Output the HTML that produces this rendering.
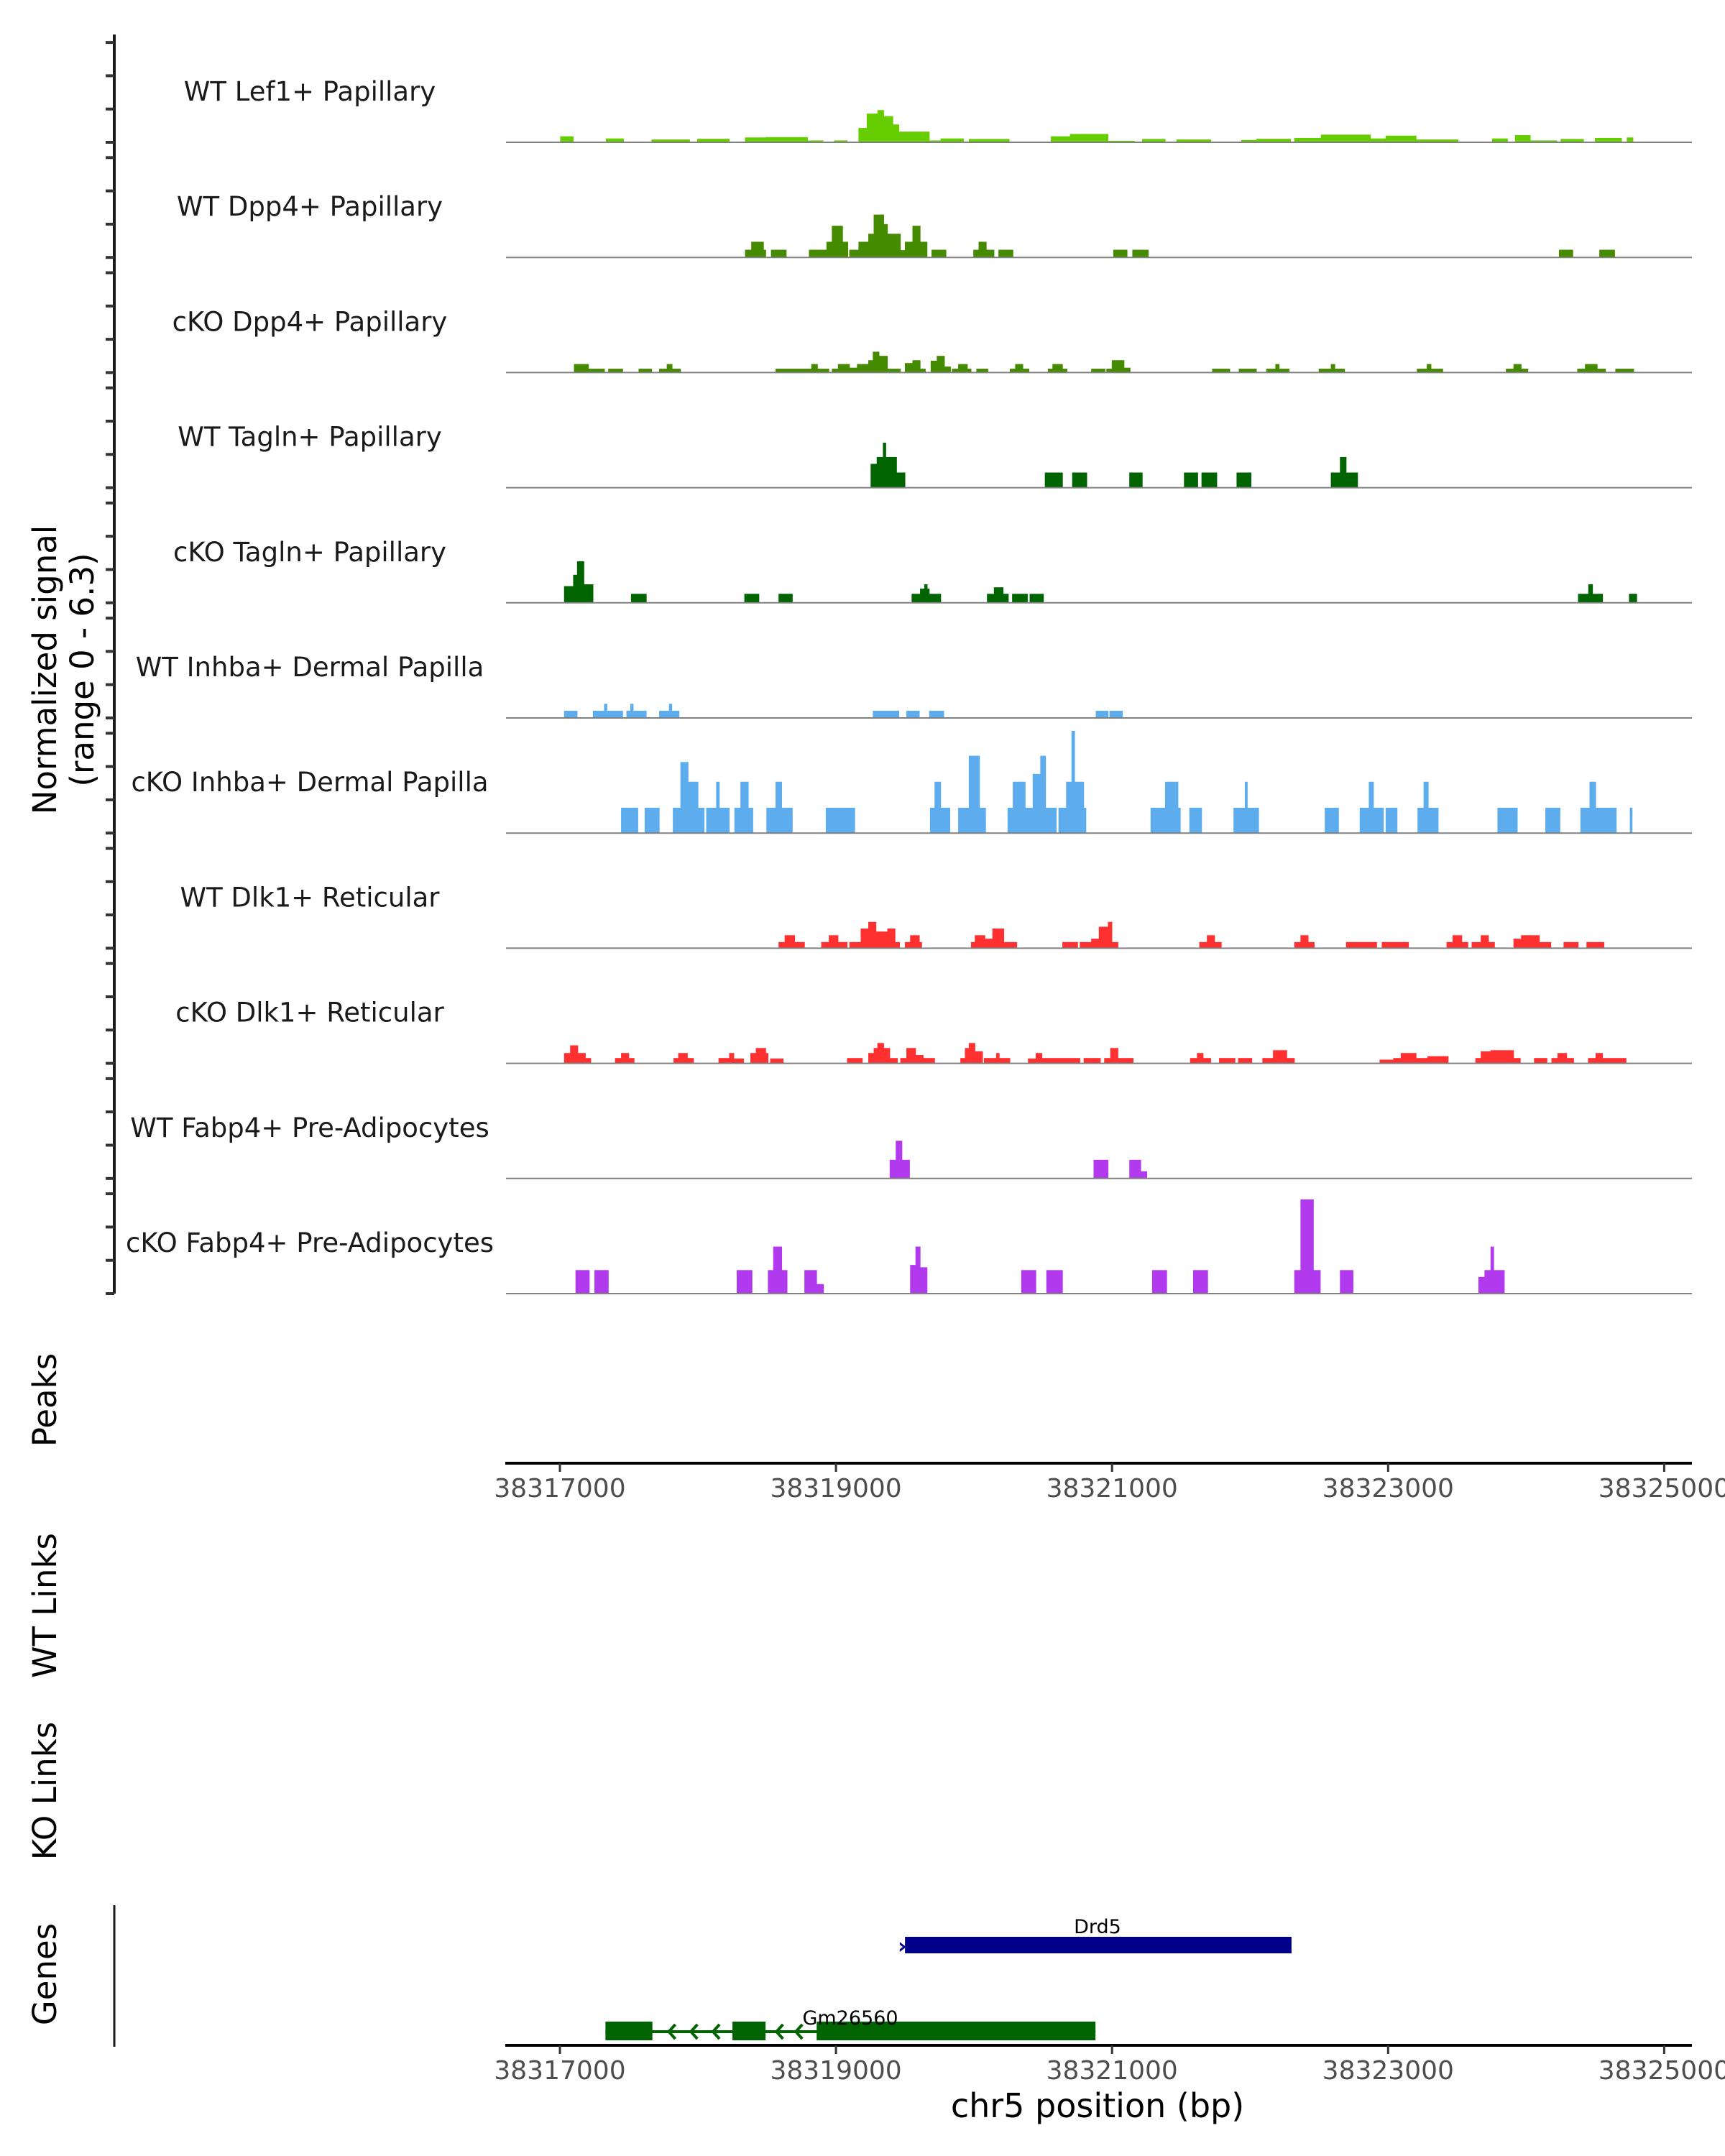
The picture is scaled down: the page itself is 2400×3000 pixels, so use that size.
<!DOCTYPE html>
<html><head><meta charset="utf-8"><title>Coverage plot chr5 Drd5 region</title>
<style>
html,body{margin:0;padding:0;background:#fff;}
svg{display:block;font-family:"DejaVu Sans","Liberation Sans",sans-serif;}
</style></head>
<body>
<svg id="chart" width="2400" height="3000" viewBox="0 0 2400 3000" xmlns="http://www.w3.org/2000/svg">
  <rect x="0" y="0" width="2400" height="3000" fill="#fff"/>
  <g id="tracks"></g>
  <g id="yaxis">
    <line x1="159" y1="48" x2="159" y2="1800" stroke="#1a1a1a" stroke-width="4"/>
  </g>
  <text transform="translate(78,932) rotate(-90)" text-anchor="middle" font-size="45" fill="#000">Normalized signal</text>
  <text transform="translate(130,932) rotate(-90)" text-anchor="middle" font-size="45" fill="#000">(range 0 - 6.3)</text>
  <text transform="translate(78,1948) rotate(-90)" text-anchor="middle" font-size="45" fill="#000">Peaks</text>
  <text transform="translate(78,2234) rotate(-90)" text-anchor="middle" font-size="45" fill="#000">WT Links</text>
  <text transform="translate(78,2492) rotate(-90)" text-anchor="middle" font-size="45" fill="#000">KO Links</text>
  <text transform="translate(78,2747) rotate(-90)" text-anchor="middle" font-size="45" fill="#000">Genes</text>
  <line x1="159" y1="2651" x2="159" y2="2848" stroke="#1a1a1a" stroke-width="3"/>
  <g id="xaxis1"></g>
  <g id="xaxis2"></g>
  <g id="genes"></g>
  <text x="1527" y="2946" text-anchor="middle" font-size="46" fill="#000">chr5 position (bp)</text>
</svg>
<script>
const regionStart = 38317000;
const axisTicks = [38317000, 38319000, 38321000, 38323000, 38325000];
const trackNames = ["WT Lef1+ Papillary","WT Dpp4+ Papillary","cKO Dpp4+ Papillary","WT Tagln+ Papillary","cKO Tagln+ Papillary","WT Inhba+ Dermal Papilla","cKO Inhba+ Dermal Papilla","WT Dlk1+ Reticular","cKO Dlk1+ Reticular","WT Fabp4+ Pre-Adipocytes","cKO Fabp4+ Pre-Adipocytes"];
const trackColors = ["#66CD00","#458B00","#458B00","#006400","#006400","#5CACEE","#5CACEE","#FF3030","#FF3030","#B23AEE","#B23AEE"];
// blocks: [startOffsetBp, endOffsetBp, signal]
const lef1WT = [[2,96,0.36],[333,460,0.23],[664,939,0.17],[994,1226,0.21],[1341,1490,0.29],[1490,1793,0.31],[1793,1904,0.11],[1986,2080,0.11],[2163,2223,0.86],[2223,2300,1.72],[2300,2345,1.93],[2345,2411,1.57],[2411,2455,1.07],[2455,2675,0.64],[2675,2758,0.11],[2758,2923,0.23],[2962,3254,0.2],[3557,3695,0.36],[3695,3970,0.5],[3970,4163,0.09],[4218,4384,0.2],[4466,4714,0.17],[4935,5045,0.14],[5045,5293,0.21],[5320,5513,0.26],[5513,5871,0.46],[5871,5982,0.23],[5982,6202,0.4],[6202,6506,0.17],[6753,6864,0.23],[6919,7029,0.43],[7029,7222,0.11],[7250,7415,0.2],[7498,7690,0.26],[7729,7773,0.29]];
const dpp4WT = [[1341,1490,0.46],[1386,1474,0.94],[1529,1639,0.46],[1804,1931,0.46],[1931,1970,0.94],[1970,2047,1.9],[2047,2085,0.94],[2096,2163,0.46],[2163,2234,0.94],[2234,2273,1.42],[2273,2345,2.57],[2345,2372,2.0],[2372,2466,1.42],[2466,2499,0.43],[2499,2554,0.94],[2554,2609,1.9],[2609,2659,0.94],[2692,2796,0.46],[2995,3033,0.46],[3033,3088,0.94],[3088,3144,0.46],[3177,3281,0.46],[4009,4108,0.46],[4147,4262,0.46],[7238,7337,0.46],[7530,7640,0.46]];
const dpp4KO = [[102,206,0.51],[206,322,0.23],[350,454,0.23],[570,664,0.23],[719,774,0.23],[774,812,0.51],[812,873,0.23],[1562,1821,0.23],[1821,1865,0.51],[1865,1948,0.23],[1970,2014,0.23],[2014,2097,0.51],[2097,2152,0.29],[2152,2234,0.51],[2234,2267,0.74],[2267,2311,1.25],[2311,2372,1.0],[2372,2466,0.23],[2499,2554,0.57],[2554,2609,0.74],[2609,2647,0.23],[2686,2730,0.71],[2730,2785,1.0],[2785,2829,0.36],[2840,2885,0.23],[2885,2951,0.51],[2951,2978,0.23],[3017,3100,0.23],[3259,3298,0.23],[3298,3353,0.51],[3353,3397,0.23],[3535,3568,0.23],[3568,3640,0.51],[3640,3673,0.23],[3849,3948,0.23],[3959,3998,0.23],[3998,4086,0.74],[4086,4130,0.29],[4725,4852,0.23],[4918,5045,0.23],[5117,5183,0.23],[5183,5210,0.51],[5210,5282,0.23],[5497,5585,0.23],[5585,5613,0.51],[5613,5684,0.23],[6208,6395,0.23],[6280,6310,0.51],[6853,6908,0.23],[6908,6963,0.51],[6963,7012,0.23],[7370,7426,0.23],[7426,7514,0.51],[7514,7574,0.23],[7646,7778,0.23]];
const taglnWT = [[2251,2295,1.43],[2295,2438,1.84],[2340,2360,2.7],[2438,2499,0.91],[3513,3640,0.91],[3711,3816,0.91],[4125,4218,0.91],[4521,4620,0.91],[4648,4758,0.91],[4902,5006,0.91],[5585,5651,0.91],[5651,5695,1.84],[5695,5778,0.91]];
const taglnKO = [[30,96,1.0],[96,124,1.68],[124,173,2.49],[173,239,1.11],[515,625,0.54],[1336,1441,0.54],[1584,1683,0.54],[2548,2609,0.54],[2609,2675,0.85],[2640,2660,1.11],[2675,2758,0.54],[3094,3144,0.54],[3144,3210,0.93],[3210,3248,0.54],[3276,3386,0.54],[3403,3502,0.54],[7376,7553,0.54],[7450,7480,1.11],[7745,7800,0.54]];
const inhbaWT = [[30,124,0.43],[239,454,0.43],[320,340,0.85],[482,625,0.43],[510,530,0.85],[719,862,0.43],[790,810,0.85],[2267,2455,0.43],[2510,2603,0.43],[2675,2780,0.43],[3882,3970,0.43],[3981,4075,0.43]];
const inhbaKO = [[443,564,1.52],[614,719,1.52],[818,873,1.52],[873,928,4.26],[928,1000,3.08],[1000,1044,1.52],[1060,1132,1.52],[1132,1154,3.08],[1154,1226,1.52],[1264,1308,1.52],[1308,1364,3.08],[1364,1397,1.52],[1496,1562,1.52],[1562,1606,3.08],[1606,1683,1.52],[1926,2135,1.52],[2681,2714,1.52],[2714,2758,3.08],[2758,2824,1.52],[2885,2962,1.52],[2962,3039,4.64],[3039,3083,1.52],[3243,3281,1.52],[3281,3370,3.08],[3370,3425,1.52],[3425,3480,3.55],[3480,3518,4.64],[3518,3595,1.52],[3612,3667,1.52],[3667,3706,3.08],[3706,3728,6.13],[3728,3794,3.08],[3794,3810,1.52],[4279,4384,1.52],[4384,4477,3.08],[4477,4494,1.52],[4560,4648,1.52],[4880,4962,1.52],[4962,4979,3.08],[4979,5061,1.52],[5541,5640,1.52],[5794,5860,1.52],[5860,5893,3.08],[5893,5965,1.52],[5982,6064,1.52],[6213,6257,1.52],[6257,6290,3.08],[6290,6362,1.52],[6792,6935,1.52],[7139,7244,1.52],[7393,7459,1.52],[7459,7503,3.08],[7503,7652,1.52],[7751,7767,1.52]];
const dlk1WT = [[1584,1628,0.37],[1628,1700,0.78],[1700,1771,0.37],[1893,1948,0.37],[1948,2014,0.78],[2014,2080,0.37],[2097,2179,0.37],[2179,2234,1.18],[2234,2289,1.58],[2289,2372,1.0],[2372,2427,1.18],[2427,2460,0.37],[2499,2537,0.37],[2537,2603,0.78],[2603,2620,0.37],[2978,3006,0.37],[3006,3078,0.78],[3078,3133,0.57],[3133,3215,1.18],[3215,3309,0.37],[3640,3750,0.37],[3766,3849,0.37],[3849,3904,0.57],[3904,3970,1.29],[3970,3998,1.58],[3998,4042,0.37],[4632,4687,0.37],[4687,4742,0.78],[4742,4791,0.37],[5320,5365,0.37],[5365,5420,0.78],[5420,5464,0.37],[5695,5916,0.37],[5954,6147,0.37],[6423,6467,0.37],[6467,6533,0.78],[6533,6577,0.37],[6605,6671,0.37],[6671,6726,0.78],[6726,6770,0.37],[6908,6963,0.57],[6963,7095,0.78],[7095,7178,0.37],[7271,7376,0.37],[7437,7563,0.37]];
const dlk1KO = [[30,74,0.62],[74,129,1.08],[129,184,0.62],[184,223,0.32],[399,443,0.32],[443,498,0.62],[498,537,0.32],[823,857,0.32],[857,923,0.62],[923,967,0.32],[1149,1226,0.32],[1226,1259,0.62],[1259,1330,0.29],[1380,1419,0.62],[1419,1490,0.92],[1490,1507,0.62],[1523,1617,0.29],[2080,2190,0.32],[2234,2273,0.62],[2273,2300,0.92],[2300,2345,1.22],[2345,2389,0.92],[2389,2444,0.32],[2466,2510,0.32],[2510,2576,0.92],[2576,2631,0.5],[2631,2714,0.32],[2901,2934,0.32],[2934,2962,0.92],[2962,3006,1.22],[3006,3061,0.72],[3072,3160,0.32],[3160,3182,0.62],[3182,3259,0.32],[3391,3447,0.29],[3447,3491,0.62],[3491,3766,0.32],[3794,3915,0.32],[3943,3987,0.32],[3987,4042,0.92],[4042,4152,0.32],[4565,4615,0.32],[4615,4659,0.62],[4659,4714,0.32],[4775,4890,0.32],[4913,5012,0.32],[5089,5166,0.32],[5166,5265,0.79],[5265,5320,0.32],[5938,6037,0.22],[6037,6092,0.32],[6092,6202,0.62],[6202,6285,0.32],[6285,6434,0.43],[6632,6671,0.32],[6671,6742,0.72],[6742,6908,0.79],[6908,6957,0.32],[7057,7150,0.32],[7183,7227,0.32],[7227,7293,0.62],[7293,7343,0.32],[7448,7503,0.32],[7503,7553,0.62],[7553,7723,0.32]];
const fabp4WT = [[2389,2433,1.12],[2433,2477,2.26],[2477,2532,1.12],[3866,3970,1.12],[4125,4207,1.12],[4207,4251,0.43]];
const fabp4KO = [[113,212,1.41],[250,350,1.41],[1281,1391,1.41],[1507,1545,1.41],[1545,1606,2.82],[1606,1645,1.41],[1771,1859,1.41],[1859,1909,0.57],[2537,2576,1.72],[2576,2609,2.82],[2609,2659,1.58],[3342,3447,1.41],[3524,3640,1.41],[4290,4395,1.41],[4587,4692,1.41],[5320,5365,1.41],[5365,5458,5.65],[5458,5508,1.41],[5651,5745,1.41],[6654,6698,1.0],[6698,6742,1.41],[6742,6764,2.82],[6764,6841,1.41]];
const trackData = [lef1WT, dpp4WT, dpp4KO, taglnWT, taglnKO, inhbaWT, inhbaKO, dlk1WT, dlk1KO, fabp4WT, fabp4KO];
const yTicks = [0, 2, 4, 6];
const drd5Gene = [38319500, 38322300];
const gmExons = [[38317330, 38317670], [38318250, 38318490], [38318860, 38320880]];
const gmSpan = [38317330, 38320880];
const gmArrows = [38317810, 38317970, 38318130, 38318590, 38318730];

const NS = "http://www.w3.org/2000/svg";
function xs(bp){ return 779 + (bp - 38317000) * 0.19205; }
function ys(v, base){ return base - v * 23.2; }
function baseOf(i){ return 198 + i * 160.2; }
function mk(tag, attrs, parent){ const e = document.createElementNS(NS, tag); for (const k in attrs) e.setAttribute(k, attrs[k]); parent.appendChild(e); return e; }

const gT = document.getElementById("tracks");
const gY = document.getElementById("yaxis");
trackData.forEach((blocks, i) => {
  const base = baseOf(i);
  const g = mk("g", {}, gT);
  
  
  const lbl = mk("text", {x: 431, y: base - 58, "text-anchor": "middle", "font-size": 37, fill: "#1a1a1a"}, g);
  lbl.textContent = trackNames[i];
  
  
  blocks.forEach(b => {
    const x0 = xs(regionStart + b[0]), x1 = xs(regionStart + b[1]);
    const yt = ys(b[2], base);
    const p = mk("rect", {x: x0, y: yt, width: Math.max(1, x1 - x0 + 0.6), height: base - yt, fill: trackColors[i]}, g);
    
    
  });
  const bl = mk("line", {x1: 704, y1: base, x2: 2354, y2: base, stroke: "#808080", "stroke-width": 2}, g);
  
  
  yTicks.forEach(t => {
    const ty = base - t * 23.15;
    const tk = mk("line", {x1: 147, y1: ty, x2: 159, y2: ty, stroke: "#333", "stroke-width": 4}, gY);
    
    
  });
});

function drawAxis(gid, y){
  const g = document.getElementById(gid);
  const ln = mk("line", {x1: 703, y1: y, x2: 2354, y2: y, stroke: "#000", "stroke-width": 4}, g);
  
  
  axisTicks.forEach(t => {
    const x = xs(t);
    const tk = mk("line", {x1: x, y1: y, x2: x, y2: y + 12, stroke: "#333", "stroke-width": 3}, g);
    
    
    const tl = mk("text", {x: x, y: y + 47, "text-anchor": "middle", "font-size": 36, fill: "#4d4d4d"}, g);
    tl.textContent = String(t);
    
    
  });
}
drawAxis("xaxis1", 2036);
drawAxis("xaxis2", 2846);

const gG = document.getElementById("genes");
const drd = mk("rect", {x: xs(drd5Gene[0]), y: 2695, width: xs(drd5Gene[1]) - xs(drd5Gene[0]), height: 23, fill: "#00008B"}, gG);


const drdArrow = mk("text", {x: xs(drd5Gene[0]) - 4, y: 2718, "text-anchor": "middle", "font-size": 30, "font-weight": "bold", fill: "#00008B"}, gG);
drdArrow.textContent = "›";


const drdL = mk("text", {x: 1527, y: 2690, "text-anchor": "middle", "font-size": 27, fill: "#000"}, gG);
drdL.textContent = "Drd5";


const gmLine = mk("line", {x1: xs(gmSpan[0]), y1: 2827, x2: xs(gmSpan[1]), y2: 2827, stroke: "#006400", "stroke-width": 4}, gG);


gmExons.forEach(e => {
  const r = mk("rect", {x: xs(e[0]), y: 2813, width: xs(e[1]) - xs(e[0]), height: 26, fill: "#006400"}, gG);
  
  
});
gmArrows.forEach(bp => {
  const x = xs(bp);
  const a = mk("polyline", {points: `${x+5},${2817} ${x-4},${2827} ${x+5},${2837}`, fill: "none", stroke: "#006400", "stroke-width": 4}, gG);
  
  
});
const gmL = mk("text", {x: 1183, y: 2817, "text-anchor": "middle", "font-size": 27, fill: "#000"}, gG);
gmL.textContent = "Gm26560";


</script>
</body></html>
